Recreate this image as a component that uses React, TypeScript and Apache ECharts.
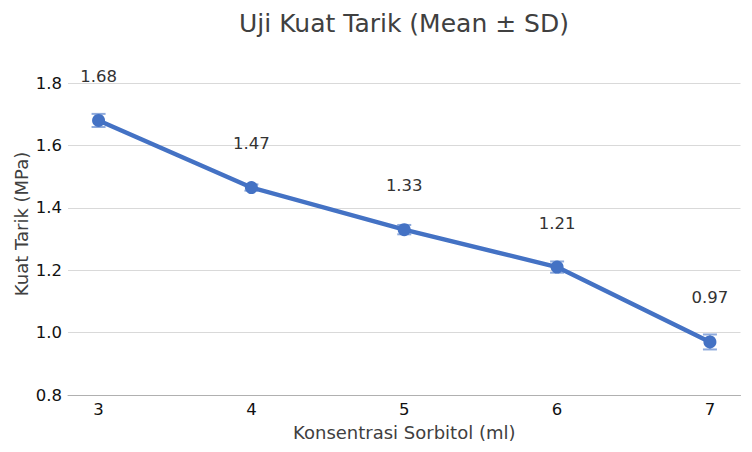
import React, { useEffect, useRef } from "react";
import * as echarts from "echarts";

const categories = [3, 4, 5, 6, 7];
const means = [1.68, 1.465, 1.33, 1.21, 0.97];
const sds = [0.021, 0.01, 0.015, 0.018, 0.024];
const labels = ["1.68", "1.47", "1.33", "1.21", "0.97"];

const FONT = "DejaVu Sans";

export default function App() {
  const ref = useRef<HTMLDivElement>(null);
  useEffect(() => {
    if (!ref.current) return;
    const chart = echarts.init(ref.current, undefined, { renderer: "svg" });
    const lineData = categories.map((c, i) => [c, means[i]]);
    const errData = categories.map((c, i) => [c, means[i] - sds[i], means[i] + sds[i]]);
    chart.setOption({
      animation: false,
      textStyle: { fontFamily: FONT },
      title: {
        text: "Uji Kuat Tarik (Mean ± SD)",
        left: 399,
        textAlign: "center",
        top: 6,
        textStyle: { fontFamily: FONT, fontSize: 25, fontWeight: "normal", color: "#404040" },
      },
      grid: { left: 68, right: 11.5, top: 83, bottom: 57 },
      xAxis: {
        type: "value",
        min: 2.8,
        max: 7.2,
        name: "Konsentrasi Sorbitol (ml)",
        nameLocation: "middle",
        nameGap: 28,
        nameTextStyle: { fontFamily: FONT, fontSize: 18, color: "#404040" },
        axisLine: { show: true, lineStyle: { color: "#b0b0b0", width: 1 } },
        axisTick: { show: false },
        splitLine: { show: false },
        axisLabel: {
          customValues: categories,
          fontFamily: FONT,
          fontSize: 16.5,
          color: "#111111",
          margin: 6,
        },
      },
      yAxis: {
        type: "value",
        min: 0.8,
        max: 1.8,
        interval: 0.2,
        axisLine: { show: false },
        axisTick: { show: false },
        splitLine: { show: true, lineStyle: { color: "#d9d9d9", width: 1 } },
        axisLabel: {
          fontFamily: FONT,
          fontSize: 16.5,
          color: "#111111",
          margin: 6,
          formatter: (v: number) => v.toFixed(1),
        },
      },
      graphic: [
        {
          type: "text",
          x: 21,
          y: 224,
          rotation: Math.PI / 2,
          style: {
            text: "Kuat Tarik (MPa)",
            fontFamily: FONT,
            fontSize: 18,
            fill: "#404040",
            align: "center",
            verticalAlign: "middle",
          },
        },
      ],
      series: [
        {
          type: "custom",
          z: 1,
          data: errData,
          renderItem: (params: any, api: any) => {
            const x = api.value(0);
            const lo = api.coord([x, api.value(1)]);
            const hi = api.coord([x, api.value(2)]);
            const hw = 7;
            const style = { stroke: "#8eaadc", lineWidth: 2 };
            return {
              type: "group",
              children: [
                { type: "line", shape: { x1: lo[0], y1: lo[1], x2: hi[0], y2: hi[1] }, style },
                { type: "line", shape: { x1: lo[0] - hw, y1: lo[1], x2: lo[0] + hw, y2: lo[1] }, style },
                { type: "line", shape: { x1: hi[0] - hw, y1: hi[1], x2: hi[0] + hw, y2: hi[1] }, style },
              ],
            };
          },
        },
        {
          type: "line",
          z: 2,
          data: lineData,
          symbol: "circle",
          symbolSize: 13,
          lineStyle: { color: "#4472c4", width: 4.5 },
          itemStyle: { color: "#4472c4" },
          label: {
            show: true,
            position: "top",
            distance: 29,
            fontFamily: FONT,
            fontSize: 16.5,
            color: "#333333",
            formatter: (p: any) => labels[p.dataIndex],
          },
        },
      ],
    });
    return () => chart.dispose();
  }, []);
  return <div ref={ref} style={{ width: 752, height: 452, margin: -8 }} />;
}
